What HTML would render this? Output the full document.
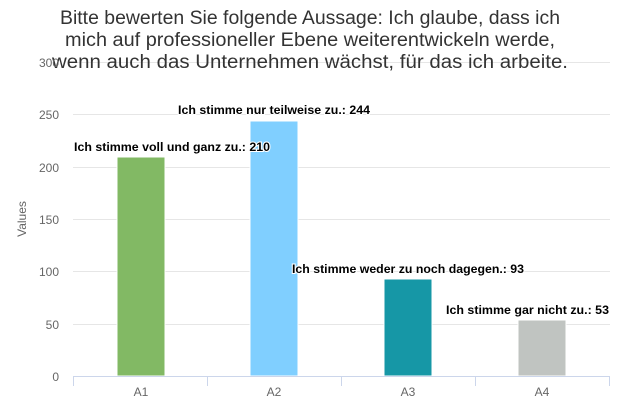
<!DOCTYPE html>
<html><head><meta charset="utf-8"><style>
html,body{margin:0;padding:0;background:#fff;}
svg{display:block;font-family:"Liberation Sans","DejaVu Sans",sans-serif;}
</style></head><body>
<svg width="620" height="413" viewBox="0 0 620 413">
<g stroke="#e6e6e6" stroke-width="1">
<line x1="73" x2="610" y1="62.5" y2="62.5"/>
<line x1="73" x2="610" y1="114.5" y2="114.5"/>
<line x1="73" x2="610" y1="167.5" y2="167.5"/>
<line x1="73" x2="610" y1="219.5" y2="219.5"/>
<line x1="73" x2="610" y1="271.5" y2="271.5"/>
<line x1="73" x2="610" y1="324.5" y2="324.5"/>
</g>
<g font-size="19" fill="#333" text-anchor="middle" lengthAdjust="spacingAndGlyphs">
<text x="310" y="24" textLength="500" lengthAdjust="spacingAndGlyphs">Bitte bewerten Sie folgende Aussage: Ich glaube, dass ich</text>
<text x="310" y="46" textLength="490" lengthAdjust="spacingAndGlyphs">mich auf professioneller Ebene weiterentwickeln werde,</text>
<text x="310" y="68" textLength="516" lengthAdjust="spacingAndGlyphs">wenn auch das Unternehmen wächst, für das ich arbeite.</text>
</g>
<g font-size="12" fill="#666" text-anchor="end">
<text x="59" y="67">300</text>
<text x="59" y="119">250</text>
<text x="59" y="172">200</text>
<text x="59" y="224">150</text>
<text x="59" y="276">100</text>
<text x="59" y="329">50</text>
<text x="59" y="381">0</text>
</g>
<text x="26" y="219" font-size="12" fill="#666" text-anchor="middle" transform="rotate(-90 26 219)">Values</text>
<rect x="117" y="157" width="48" height="219" fill="#82b964" stroke="#fff"/>
<rect x="250" y="121" width="48" height="255" fill="#80cfff" stroke="#fff"/>
<rect x="384" y="279" width="48" height="97" fill="#1697a6" stroke="#fff"/>
<rect x="518" y="320" width="48" height="56" fill="#c0c4c1" stroke="#fff"/>
<g stroke="#ccd6eb" stroke-width="1">
<line x1="73" x2="610" y1="376.5" y2="376.5"/>
<line x1="73.5" x2="73.5" y1="376" y2="386"/>
<line x1="207.5" x2="207.5" y1="376" y2="386"/>
<line x1="341.5" x2="341.5" y1="376" y2="386"/>
<line x1="475.5" x2="475.5" y1="376" y2="386"/>
<line x1="609.5" x2="609.5" y1="376" y2="386"/>
</g>
<g font-size="12" fill="#666" text-anchor="middle">
<text x="141" y="396">A1</text>
<text x="274" y="396">A2</text>
<text x="408" y="396">A3</text>
<text x="542" y="396">A4</text>
</g>
<g font-size="12" font-weight="bold" fill="#000" stroke="#fff" stroke-width="2" paint-order="stroke">
<text x="74" y="151" textLength="196" lengthAdjust="spacingAndGlyphs">Ich stimme voll und ganz zu.: 210</text>
<text x="274" y="114" text-anchor="middle" textLength="192" lengthAdjust="spacingAndGlyphs">Ich stimme nur teilweise zu.: 244</text>
<text x="408" y="273" text-anchor="middle" textLength="232" lengthAdjust="spacingAndGlyphs">Ich stimme weder zu noch dagegen.: 93</text>
<text x="609" y="314" text-anchor="end" textLength="163" lengthAdjust="spacingAndGlyphs">Ich stimme gar nicht zu.: 53</text>
</g>
</svg>
</body></html>
